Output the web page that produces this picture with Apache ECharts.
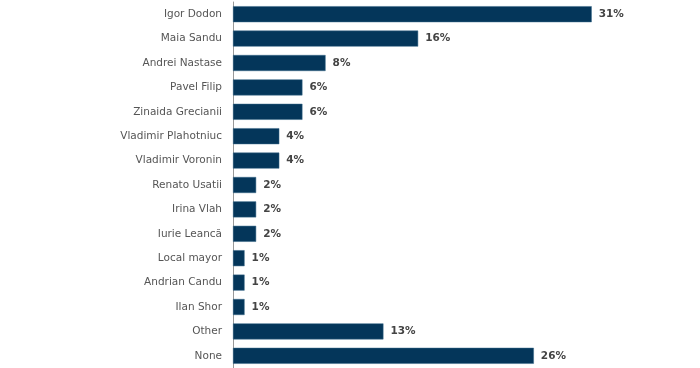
<!DOCTYPE html>
<html>
<head>
<meta charset="utf-8">
<script src="https://cdn.jsdelivr.net/npm/echarts@6/dist/echarts.min.js"></script>
<style>html,body{margin:0;padding:0;background:#fff;}#c{width:700px;height:368px;}</style>
</head>
<body>
<div id="c"></div>
<script>
const categories = ["Igor Dodon","Maia Sandu","Andrei Nastase","Pavel Filip","Zinaida Grecianii","Vladimir Plahotniuc","Vladimir Voronin","Renato Usatii","Irina Vlah","Iurie Leancă","Local mayor","Andrian Candu","Ilan Shor","Other","None"];
const values = [31,16,8,6,6,4,4,2,2,2,1,1,1,13,26];

const chart = echarts.init(document.getElementById('c'));
chart.setOption({
  animation: false,
  grid: {left: 233, right: 62, top: 2, bottom: 0, containLabel: false},
  xAxis: {
    type: 'value', min: 0, max: 35,
    show: false
  },
  yAxis: {
    type: 'category', data: categories, inverse: true,
    axisLine: {show: true, lineStyle: {color: '#999', width: 1}},
    axisTick: {show: false},
    axisLabel: {color: '#555', fontFamily: 'DejaVu Sans', fontSize: 10.5, margin: 11}
  },
  series: [{
    type: 'bar', data: values, barWidth: 16,
    itemStyle: {color: '#04365a', borderColor: '#3a6a8a', borderWidth: 0.5},
    label: {show: true, position: 'right', distance: 7, formatter: '{c}%', color: '#444', fontFamily: 'DejaVu Sans', fontSize: 10.5, fontWeight: 'bold'}
  }]
});
</script>
</body>
</html>
